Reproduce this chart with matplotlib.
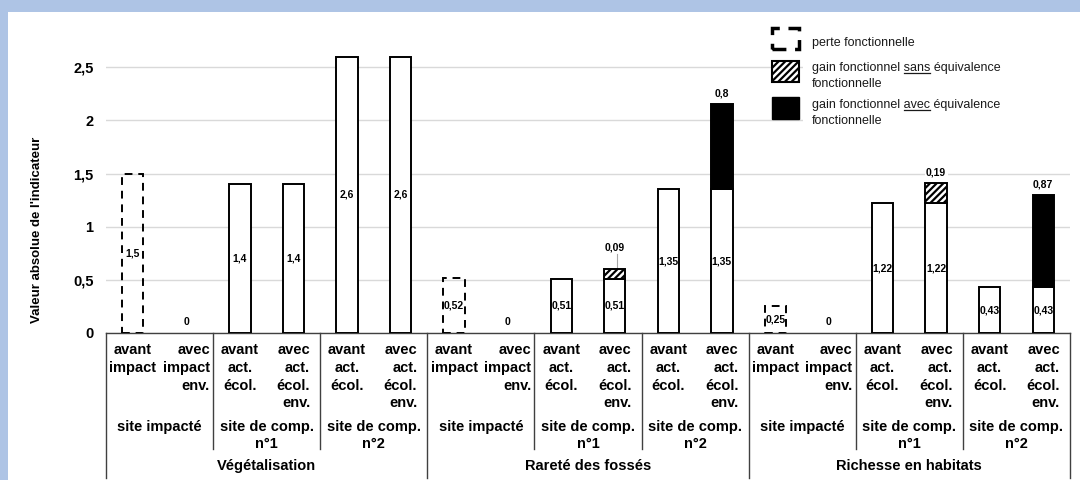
import matplotlib
matplotlib.use("Agg")
import matplotlib.pyplot as plt
from matplotlib.patches import Rectangle
from matplotlib.lines import Line2D
import numpy as np

# data
categories = ["Végétalisation", "Rareté des fossés", "Richesse en habitats"]
sites = ["site impacté", "site de comp.\nn°1", "site de comp.\nn°2"]
bar_labels = ["avant\nimpact", "avec\nimpact\nenv.",
              "avant\nact.\nécol.", "avec\nact.\nécol.\nenv.",
              "avant\nact.\nécol.", "avec\nact.\nécol.\nenv."] * 3

base = [1.5, 0, 1.4, 1.4, 2.6, 2.6,
        0.52, 0, 0.51, 0.51, 1.35, 1.35,
        0.25, 0, 1.22, 1.22, 0.43, 0.43]
gain_sans = [0, 0, 0, 0, 0, 0,
             0, 0, 0, 0.09, 0, 0,
             0, 0, 0, 0.19, 0, 0]
gain_avec = [0, 0, 0, 0, 0, 0,
             0, 0, 0, 0, 0, 0.8,
             0, 0, 0, 0, 0, 0.87]
perte = [True, False, False, False, False, False] * 3

yticks = [0, 0.5, 1, 1.5, 2, 2.5]

BORDER = "#aec4e5"
W, H = 1080, 480


def fx(px):
    return px / W


def fy(py):
    return 1 - py / H


def fmt(v):
    return ("%g" % v).replace(".", ",")


plt.rcParams["font.family"] = ["Liberation Sans", "DejaVu Sans"]
plt.rcParams["hatch.linewidth"] = 1.6

fig = plt.figure(figsize=(10.8, 4.8), dpi=100)
fig.patch.set_facecolor("white")
fig.add_artist(Rectangle((0, fy(12)), 1, 12 / H, transform=fig.transFigure,
                         facecolor=BORDER, edgecolor="none", zorder=0))
fig.add_artist(Rectangle((0, 0), 8 / W, 1, transform=fig.transFigure,
                         facecolor=BORDER, edgecolor="none", zorder=0))

ax = fig.add_axes([fx(106), fy(333), fx(1070) - fx(106), (333 - 14) / H])
n = len(base)
x = np.arange(n)
bw = 0.4
bold = dict(fontweight="bold", color="black")

for i in range(n):
    if base[i] > 0:
        if perte[i]:
            ax.bar(x[i], base[i], bw, facecolor="none", edgecolor="black",
                   linewidth=1.4, linestyle=(0, (4, 3)), zorder=3)
        else:
            ax.bar(x[i], base[i], bw, facecolor="white", edgecolor="black",
                   linewidth=1.4, zorder=3)
        ax.text(x[i], base[i] / 2, fmt(base[i]), ha="center", va="center",
                fontsize=7.5, zorder=5, **bold)
    else:
        ax.text(x[i], 0.1, "0", ha="center", va="center", fontsize=7.5, **bold)

    if gain_sans[i] > 0:
        ax.bar(x[i], gain_sans[i], bw, bottom=base[i], facecolor="white",
               edgecolor="black", hatch="/////", linewidth=1.4, zorder=3)
    if gain_avec[i] > 0:
        ax.bar(x[i], gain_avec[i], bw, bottom=base[i], facecolor="black",
               edgecolor="black", linewidth=1.4, zorder=3)

    gain = gain_sans[i] + gain_avec[i]
    if gain > 0:
        top = base[i] + gain
        if gain < 0.1:
            # small segment: label lifted with a leader line
            ax.plot([x[i] + 0.04, x[i] + 0.04], [top, top + 0.14],
                    color="#a6a6a6", lw=0.8, zorder=2)
            ax.text(x[i], top + 0.2, fmt(gain), ha="center", va="center",
                    fontsize=7.5, zorder=5, **bold)
        else:
            ax.text(x[i], top + 0.1, fmt(gain), ha="center", va="center",
                    fontsize=7.5, zorder=5,
                    bbox=dict(facecolor="white", edgecolor="none", pad=1), **bold)

ax.set_xlim(-0.5, n - 0.5)
ax.set_ylim(0, 3)
ax.set_yticks(yticks)
ax.set_yticklabels([fmt(v) for v in yticks], fontsize=10.5, fontweight="bold")
ax.tick_params(axis="y", length=0, pad=9)
ax.set_xticks([])
ax.yaxis.grid(True, color="#d9d9d9", lw=1)
ax.set_axisbelow(True)
for s in ["top", "right", "left"]:
    ax.spines[s].set_visible(False)
ax.spines["bottom"].set_color("#404040")
ax.spines["bottom"].set_linewidth(1)

# hierarchical category axis
tr = ax.get_xaxis_transform()
for i, lab in enumerate(bar_labels):
    ax.text(x[i], -0.031, lab, transform=tr, ha="center", va="top",
            multialignment="right" if lab.startswith("avec") else "center",
            fontsize=10.5, linespacing=1.35, **bold)
for k in range(len(sites) * len(categories)):
    ax.text(2 * k + 0.5, -0.272, sites[k % 3], transform=tr, ha="center",
            va="top", fontsize=10.5, linespacing=1.3, **bold)
for c, cat in enumerate(categories):
    ax.text(6 * c + 2.5, -0.417, cat, transform=tr, ha="center", va="center",
            fontsize=10.5, **bold)
for k in range(10):
    xs = -0.5 + 2 * k
    y_end = -0.455 if k % 3 == 0 else -0.364
    ax.add_line(Line2D([xs, xs], [0, y_end], transform=tr, color="#404040",
                       lw=1, clip_on=False))

fig.text(fx(37), fy(230), "Valeur absolue de l'indicateur", rotation=90,
         ha="center", va="center", fontsize=9.5, **bold)

# legend
fig.add_artist(Rectangle((fx(803), fy(132)), fx(1076) - fx(803), (132 - 14) / H,
                         transform=fig.transFigure, facecolor="white",
                         edgecolor="none", zorder=2))
fig.add_artist(Rectangle((fx(772), fy(49)), 27 / W, 21 / H, transform=fig.transFigure,
                         facecolor="white", edgecolor="black", lw=2.5,
                         linestyle=(0, (4, 2.5)), zorder=3))
fig.add_artist(Rectangle((fx(772), fy(82)), 27 / W, 21 / H, transform=fig.transFigure,
                         facecolor="white", edgecolor="black", lw=1.5,
                         hatch="/////", zorder=3))
fig.add_artist(Rectangle((fx(772), fy(119)), 27 / W, 22 / H, transform=fig.transFigure,
                         facecolor="black", edgecolor="black", lw=1, zorder=3))

leg = dict(fontsize=9, color="#1a1a1a", va="baseline", ha="left", zorder=4)
fig.text(fx(812), fy(46), "perte fonctionnelle", **leg)
renderer = fig.canvas.get_renderer()
for word, y1 in [("sans", 71), ("avec", 108)]:
    head = "gain fonctionnel " + word
    fig.text(fx(812), fy(y1), head + " équivalence", **leg)
    fig.text(fx(812), fy(y1 + 16), "fonctionnelle", **leg)
    t1 = fig.text(0, 0, head, fontsize=9)
    t2 = fig.text(0, 0, word, fontsize=9)
    w1 = t1.get_window_extent(renderer).width
    w2 = t2.get_window_extent(renderer).width
    t1.remove()
    t2.remove()
    fig.add_artist(Line2D([fx(812 + w1 - w2), fx(812 + w1)], [fy(y1 + 2), fy(y1 + 2)],
                          transform=fig.transFigure, color="#1a1a1a", lw=0.9,
                          zorder=4))

fig.savefig("out.png", dpi=100)
